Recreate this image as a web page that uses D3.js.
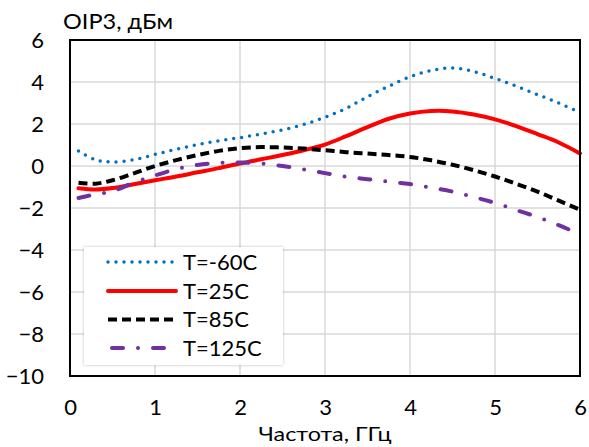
<!DOCTYPE html>
<html>
<head>
<meta charset="utf-8">
<script src="https://cdn.jsdelivr.net/npm/d3@7"></script>
<style>
  html, body { margin: 0; padding: 0; background: #fff; }
  svg { display: block; }
  text { font-family: Lato, "Open Sans", sans-serif; fill: #000; }
</style>
</head>
<body>
<svg id="chart" width="589" height="447"></svg>
<script>
// Frequency points, GHz
const freq = [0.1, 0.3, 0.5, 0.75, 1.0, 1.25, 1.5, 1.75, 2.0, 2.25, 2.5, 2.75, 3.0,
              3.25, 3.5, 3.75, 4.0, 4.25, 4.5, 4.75, 5.0, 5.25, 5.5, 5.75, 6.0];
// OIP3 values, dBm
const tMinus60 = [0.72, 0.30, 0.19, 0.30, 0.55, 0.80, 1.02, 1.20, 1.35, 1.52, 1.72, 1.98, 2.32,
                  2.75, 3.30, 3.80, 4.25, 4.55, 4.67, 4.50, 4.17, 3.80, 3.40, 3.00, 2.54];
const t25 = [-1.06, -1.12, -1.05, -0.87, -0.68, -0.50, -0.30, -0.10, 0.12, 0.32, 0.52, 0.75, 1.02,
             1.42, 1.85, 2.25, 2.50, 2.62, 2.60, 2.45, 2.22, 1.90, 1.52, 1.12, 0.60];
const t85 = [-0.80, -0.84, -0.68, -0.35, 0.00, 0.28, 0.52, 0.72, 0.85, 0.90, 0.88, 0.83, 0.75,
             0.66, 0.59, 0.52, 0.43, 0.27, 0.06, -0.20, -0.50, -0.85, -1.22, -1.65, -2.08];
const t125 = [-1.52, -1.35, -1.20, -0.80, -0.45, -0.15, 0.05, 0.15, 0.17, 0.12, 0.00, -0.16, -0.34,
              -0.51, -0.63, -0.75, -0.86, -1.03, -1.22, -1.48, -1.76, -2.10, -2.43, -2.82, -3.25];
const seriesNames = ["T=-60C", "T=25C", "T=85C", "T=125C"];
const xTicks = [0, 1, 2, 3, 4, 5, 6];
const yTicks = [-10, -8, -6, -4, -2, 0, 2, 4, 6];
const yTitle = "OIP3, дБм";
const xTitle = "Частота, ГГц";

const styles = [
  { color: "#0070C0", width: 3.5, dash: "0,8", cap: "round" },
  { color: "#FF0000", width: 4, dash: null, cap: "round" },
  { color: "#000000", width: 4, dash: "9,5", cap: "butt" },
  { color: "#7030A0", width: 4, dash: "11,15,0,15", cap: "round" }
];
const seriesVals = [tMinus60, t25, t85, t125];

const svg = d3.select("#chart");
const m = { left: 70, right: 9, top: 40, bottom: 71 };
const W = 589, H = 447;
const x = d3.scaleLinear().domain([0, 6]).range([m.left, W - m.right]);
const y = d3.scaleLinear().domain([-10, 6]).range([H - m.bottom, m.top]);

// grid
const grid = svg.append("g");
grid.selectAll("line.v").data(xTicks).join("line")
  .attr("x1", d => x(d)).attr("x2", d => x(d))
  .attr("y1", y(6)).attr("y2", y(-10))
  .attr("stroke", "#d9d9d9").attr("stroke-width", 1.5);
grid.selectAll("line.h").data(yTicks).join("line")
  .attr("x1", x(0)).attr("x2", x(6))
  .attr("y1", d => y(d)).attr("y2", d => y(d))
  .attr("stroke", "#d9d9d9").attr("stroke-width", 1.5);

// axes (labels only, via d3 axis)
const xAxis = svg.append("g").attr("transform", `translate(0,${y(-10)})`)
  .call(d3.axisBottom(x).tickValues(xTicks).tickSize(0).tickPadding(24).tickFormat(d3.format("d")));
const yAxis = svg.append("g").attr("transform", `translate(${x(0)},0)`)
  .call(d3.axisLeft(y).tickValues(yTicks).tickSize(0).tickPadding(26).tickFormat(d3.format("d")));
[xAxis, yAxis].forEach(g => {
  g.select(".domain").remove();
  g.selectAll("text").style("font-family", "Lato, 'Open Sans', sans-serif")
    .style("font-size", "22px").attr("fill", "#000");
});
yAxis.selectAll("text").attr("dy", "0.36em");
xAxis.selectAll("text").attr("dy", "0.68em");

// lines
const line = d3.line().curve(d3.curveCatmullRom.alpha(0.5));
seriesVals.forEach((vals, i) => {
  const st = styles[i];
  svg.append("path")
    .attr("d", line(freq.map((f, k) => [x(f), y(vals[k])])))
    .attr("fill", "none")
    .attr("stroke", st.color)
    .attr("stroke-width", st.width)
    .attr("stroke-linecap", st.cap)
    .attr("stroke-linejoin", "round")
    .attr("stroke-dasharray", st.dash);
});

// frame
svg.append("rect")
  .attr("x", x(0)).attr("y", y(6))
  .attr("width", x(6) - x(0)).attr("height", y(-10) - y(6))
  .attr("fill", "none").attr("stroke", "#000").attr("stroke-width", 2);

// legend
const defs = svg.append("defs");
const f = defs.append("filter").attr("id", "sh").attr("x", "-10%").attr("y", "-10%")
  .attr("width", "120%").attr("height", "120%");
f.append("feDropShadow").attr("dx", 0).attr("dy", 0).attr("stdDeviation", 1.5)
  .attr("flood-color", "#000").attr("flood-opacity", 0.25);
const lg = svg.append("g");
lg.append("rect").attr("x", 84).attr("y", 247).attr("width", 199).attr("height", 118)
  .attr("fill", "#fff").attr("filter", "url(#sh)");
const rowY = [262, 291, 319.5, 348];
seriesNames.forEach((name, i) => {
  const st = styles[i];
  lg.append("line")
    .attr("x1", i === 3 ? 112 : 108).attr("x2", i === 3 ? 172 : 176)
    .attr("y1", rowY[i]).attr("y2", rowY[i])
    .attr("stroke", st.color).attr("stroke-width", st.width)
    .attr("stroke-linecap", st.cap).attr("stroke-dasharray", i === 3 ? "11,15,0,15" : st.dash);
  lg.append("text").attr("x", 183).attr("y", rowY[i]).attr("dy", "0.36em")
    .style("font-size", "22px").text(name);
});

// titles
svg.append("text").attr("x", 63).attr("y", 29).style("font-size", "21px")
  .attr("textLength", 110).attr("lengthAdjust", "spacingAndGlyphs").text(yTitle);
svg.append("text").attr("x", 325).attr("y", 441).attr("text-anchor", "middle")
  .style("font-size", "19px")
  .attr("textLength", 133).attr("lengthAdjust", "spacingAndGlyphs").text(xTitle);
</script>
</body>
</html>
